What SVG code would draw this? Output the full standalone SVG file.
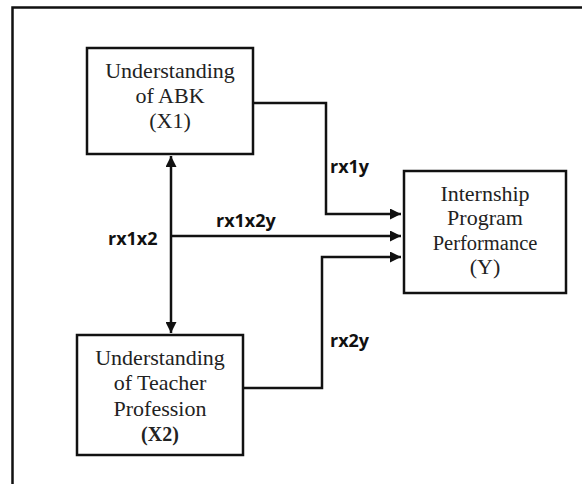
<svg xmlns="http://www.w3.org/2000/svg" width="582" height="484" viewBox="0 0 582 484">
<defs>
<style>
.box{fill:#fff;stroke:#111;stroke-width:2.5}
.t{font-family:"Liberation Serif","Times New Roman",serif;font-size:22px;fill:#222;text-anchor:middle}
.lbl{font-family:"Open Sans","Liberation Sans",sans-serif;font-size:18px;font-weight:bold;fill:#111}
.c{fill:none;stroke:#111;stroke-width:2.5}
</style>
<marker id="ah" viewBox="0 0 10 10" refX="10" refY="5" markerWidth="4.4" markerHeight="4.4" orient="auto-start-reverse" markerUnits="strokeWidth">
<path d="M0,0 L10,5 L0,10 z" fill="#111"/>
</marker>
</defs>
<rect width="582" height="484" fill="#fff"/>
<path d="M12.5,484 V7.5 H582" fill="none" stroke="#111" stroke-width="2.5"/>
<g id="connectors">
<path class="c" d="M253,103 H326 V214 H401" marker-end="url(#ah)"/>
<path class="c" d="M171,236 H401" marker-end="url(#ah)"/>
<path class="c" d="M244,388 H322 V257 H401" marker-end="url(#ah)"/>
<path class="c" d="M171,156 V333" marker-start="url(#ah)" marker-end="url(#ah)"/>
<text class="lbl" x="330" y="173">rx1y</text>
<text class="lbl" x="216" y="227">rx1x2y</text>
<text class="lbl" x="108" y="245">rx1x2</text>
<text class="lbl" x="330" y="347">rx2y</text>
</g>
<g id="x1">
<rect class="box" x="87" y="48" width="166" height="106"/>
<text class="t" x="170" y="78">Understanding</text>
<text class="t" x="170" y="103">of ABK</text>
<text class="t" x="170" y="128">(X1)</text>
</g>
<g id="x2">
<rect class="box" x="77" y="335" width="166" height="120"/>
<text class="t" x="160" y="365">Understanding</text>
<text class="t" x="160" y="390">of Teacher</text>
<text class="t" x="160" y="416">Profession</text>
<text class="t" x="160" y="441" style="font-weight:bold;font-size:20px">(X2)</text>
</g>
<g id="y">
<rect class="box" x="404" y="171" width="162" height="122"/>
<text class="t" x="485" y="201">Internship</text>
<text class="t" x="485" y="225">Program</text>
<text class="t" x="485" y="250" style="font-size:20.5px">Performance</text>
<text class="t" x="485" y="274">(Y)</text>
</g>
</svg>
